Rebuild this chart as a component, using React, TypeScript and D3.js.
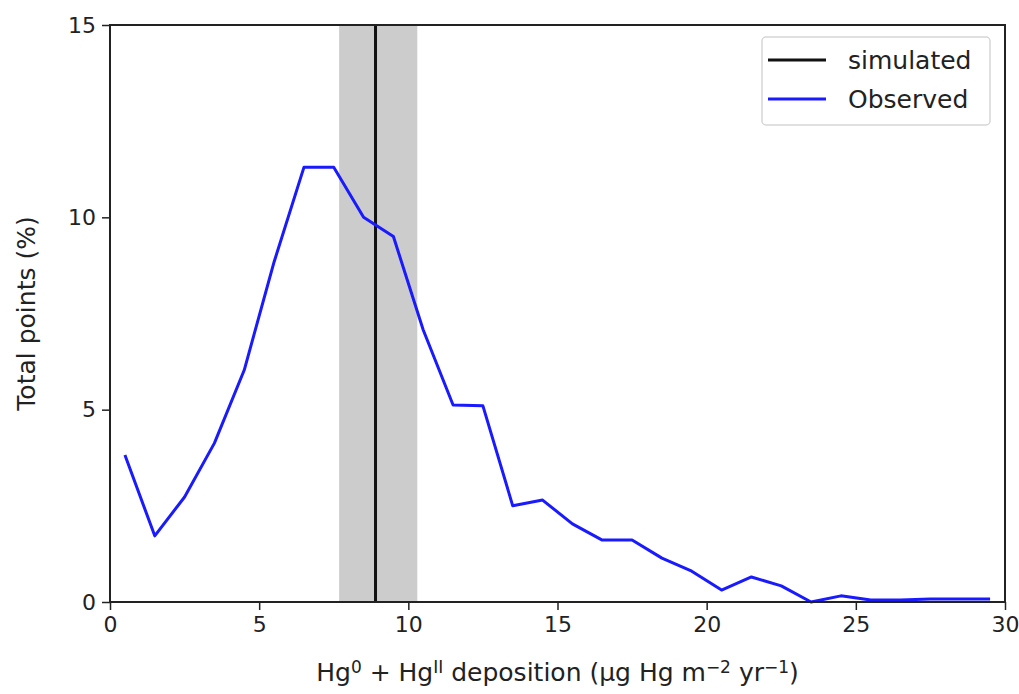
import React, { useEffect, useRef } from "react";
import * as d3 from "d3";

// bin centres (µg Hg m-2 yr-1) and observed share of points (%)
const binCentres = [0.5, 1.5, 2.5, 3.5, 4.5, 5.5, 6.5, 7.5, 8.5, 9.5, 10.5, 11.5, 12.5, 13.5, 14.5,
  15.5, 16.5, 17.5, 18.5, 19.5, 20.5, 21.5, 22.5, 23.5, 24.5, 25.5, 26.5, 27.5, 28.5, 29.5];
const observed = [3.82, 1.72, 2.73, 4.13, 6.03, 8.84, 11.3, 11.3, 10.0, 9.5, 7.07, 5.12, 5.1, 2.5, 2.65,
  2.03, 1.61, 1.61, 1.14, 0.8, 0.31, 0.65, 0.42, 0.0, 0.16, 0.05, 0.05, 0.08, 0.08, 0.08];
const simulated = 8.9;
const simulatedRange = [7.68, 10.3];
const xTicks = [0, 5, 10, 15, 20, 25, 30];
const yTicks = [0, 5, 10, 15];
const legendItems = [
  { label: "simulated", color: "#111111" },
  { label: "Observed", color: "#1a1aff" },
];

const W = 1019, H = 694;
const margin = { top: 25, right: 14, bottom: 92, left: 110 };
const FONT = "DejaVu Sans, sans-serif";

export default function App() {
  const ref = useRef<SVGSVGElement>(null);

  useEffect(() => {
    const svg = d3.select(ref.current);
    svg.selectAll("*").remove();
    const width = W - margin.left - margin.right;
    const height = H - margin.top - margin.bottom;

    const x = d3.scaleLinear().domain([0, 30]).range([0, width]);
    const y = d3.scaleLinear().domain([0, 15]).range([height, 0]);

    const g = svg.append("g").attr("transform", `translate(${margin.left},${margin.top})`);

    // shaded range of the simulation
    g.append("rect")
      .attr("x", x(simulatedRange[0]))
      .attr("y", 0)
      .attr("width", x(simulatedRange[1]) - x(simulatedRange[0]))
      .attr("height", height)
      .attr("fill", "#cccccc");

    g.append("line")
      .attr("x1", x(simulated)).attr("x2", x(simulated))
      .attr("y1", 0).attr("y2", height)
      .attr("stroke", legendItems[0].color)
      .attr("stroke-width", 3);

    const line = d3.line<number>()
      .x((d, i) => x(binCentres[i]))
      .y(d => y(d));

    g.append("path")
      .datum(observed)
      .attr("d", line)
      .attr("fill", "none")
      .attr("stroke", legendItems[1].color)
      .attr("stroke-width", 3)
      .attr("stroke-linejoin", "round");

    // frame
    g.append("rect")
      .attr("width", width).attr("height", height)
      .attr("fill", "none").attr("stroke", "#222").attr("stroke-width", 2);

    const xAxis = g.append("g")
      .attr("transform", `translate(0,${height})`)
      .call(d3.axisBottom(x).tickValues(xTicks).tickSize(8).tickPadding(6));
    const yAxis = g.append("g")
      .call(d3.axisLeft(y).tickValues(yTicks).tickSize(8).tickPadding(6));
    [xAxis, yAxis].forEach(a => {
      a.select(".domain").remove();
      a.selectAll("line").attr("stroke", "#222").attr("stroke-width", 1.5);
      a.selectAll("text").attr("font-family", FONT).attr("font-size", 22).attr("fill", "#222");
    });

    // legend
    const lg = g.append("g").attr("transform", `translate(${width - 243},12)`);
    lg.append("rect")
      .attr("width", 228).attr("height", 88).attr("rx", 4)
      .attr("fill", "white").attr("stroke", "#d6d6d6").attr("stroke-width", 1.5);
    legendItems.forEach((d, i) => {
      const row = lg.append("g").attr("transform", `translate(0,${23 + i * 39})`);
      row.append("line")
        .attr("x1", 6).attr("x2", 64)
        .attr("stroke", d.color).attr("stroke-width", 3);
      row.append("text")
        .attr("x", 86).attr("dy", "0.35em")
        .attr("font-family", FONT).attr("font-size", 25).attr("fill", "#222")
        .text(d.label);
    });

    // axis labels
    g.append("text")
      .attr("transform", `translate(${-75},${height / 2}) rotate(-90)`)
      .attr("text-anchor", "middle")
      .attr("font-family", FONT).attr("font-size", 25).attr("fill", "#222")
      .text("Total points (%)");

    const xl = g.append("text")
      .attr("x", width / 2).attr("y", height + 79)
      .attr("text-anchor", "middle")
      .attr("font-family", FONT).attr("font-size", 25).attr("fill", "#222");
    const parts: [string, boolean][] = [
      ["Hg", false], ["0", true], [" + Hg", false], ["II", true],
      [" deposition (µg Hg m", false], ["−2", true], [" yr", false], ["−1", true], [")", false],
    ];
    parts.forEach(([t, sup]) => {
      xl.append("tspan")
        .attr("font-size", sup ? 17 : 25)
        .attr("baseline-shift", sup ? "45%" : "0%")
        .text(t);
    });
  }, []);

  return <svg ref={ref} width={W} height={H} style={{ display: "block", position: "absolute", left: 0, top: 0, background: "white" }} />;
}
